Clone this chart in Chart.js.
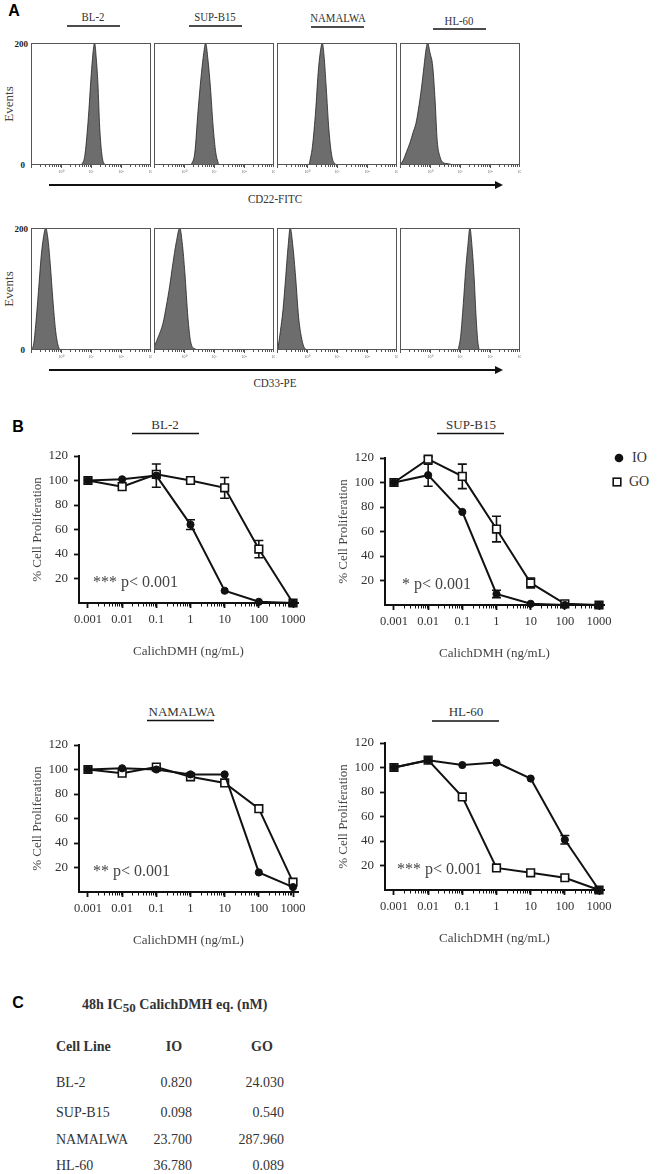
<!DOCTYPE html>
<html>
<head>
<meta charset="utf-8">
<script src="https://cdn.jsdelivr.net/npm/chart.js@4.4.1/dist/chart.umd.min.js"></script>
<style>
  body { margin: 0; background: #fff; width: 661px; height: 1174px; position: relative; overflow: hidden; }
  canvas { position: absolute; }
  .lbl { position: absolute; white-space: nowrap; line-height: 1; color: #333; font-family: "Liberation Serif", "Times New Roman", serif; }
  svg { position: absolute; left: 0; top: 0; }
</style>
</head>
<body>
<svg id="lines" width="661" height="1174"></svg>
<script>
// Cell lines and axis labels
const cellLines = ["BL-2", "SUP-B15", "NAMALWA", "HL-60"];
const histTickValues = [1, 2, 3, 4];
const histTickLabels = ["10⁰", "10¹", "10²", "10³"];
const histYLabels = ["200", "0"];
const histMarkers = ["CD22-FITC", "CD33-PE"];

// Flow histograms: [position in decades, events]
const cd22_BL2 = [[1.68,0],[1.79,14],[1.87,52],[1.93,90],[2.01,150],[2.09,194],[2.12,200],[2.18,172],[2.23,134],[2.29,62],[2.37,14],[2.46,0]];
const cd22_SUPB15 = [[1.24,0],[1.36,20],[1.47,90],[1.58,150],[1.66,184],[1.72,200],[1.80,172],[1.88,128],[1.97,64],[2.06,20],[2.16,0]];
const cd22_NAMALWA = [[1.07,0],[1.18,30],[1.29,90],[1.37,150],[1.44,184],[1.51,200],[1.57,178],[1.64,128],[1.73,58],[1.83,14],[1.96,0]];
const cd22_HL60 = [[0.03,2],[0.11,8],[0.22,22],[0.33,36],[0.44,54],[0.53,68],[0.61,90],[0.72,128],[0.80,162],[0.87,190],[0.92,200],[1.00,184],[1.09,162],[1.17,106],[1.24,40],[1.33,14],[1.44,4],[1.61,2],[1.78,0]];

const cd33_BL2 = [[0.02,2],[0.09,10],[0.18,54],[0.27,110],[0.34,154],[0.42,186],[0.49,200],[0.57,180],[0.64,142],[0.73,82],[0.82,32],[0.90,8],[0.96,0]];
const cd33_SUPB15 = [[0.03,8],[0.13,20],[0.30,44],[0.41,72],[0.52,104],[0.63,142],[0.74,176],[0.86,200],[0.94,176],[1.03,126],[1.13,54],[1.22,14],[1.36,2],[1.52,0]];
const cd33_NAMALWA = [[0.03,2],[0.11,30],[0.20,66],[0.29,120],[0.37,170],[0.44,200],[0.53,170],[0.62,120],[0.72,54],[0.81,22],[0.89,6],[0.98,0]];
const cd33_HL60 = [[1.94,0],[2.02,22],[2.11,76],[2.19,132],[2.26,170],[2.33,200],[2.40,170],[2.47,120],[2.53,60],[2.59,16],[2.64,0]];

// Proliferation curves
const doses = [0.001, 0.01, 0.1, 1, 10, 100, 1000];
const doseLabels = ["0.001", "0.01", "0.1", "1", "10", "100", "1000"];
const yTicks = [20, 40, 60, 80, 100, 120];

const io_BL2 = [100, 101, 104, 64, 10, 1, 0];
const go_BL2 = [100, 95, 105, 100, 94, 44, 0];
const ioErr_BL2 = [0, 0, 9.5, 4, 0, 0, 0];
const goErr_BL2 = [0, 0, 0, 0, 8.5, 7, 0];

const io_SUPB15 = [100, 106, 76, 9, 1, 0, 0];
const go_SUPB15 = [100, 119, 105, 62, 18, 1, 0];
const ioErr_SUPB15 = [0, 9, 0, 3, 0, 0, 0];
const goErr_SUPB15 = [0, 2, 10, 10.5, 4, 0, 0];

const io_NAMALWA = [100, 101, 100, 96, 96, 16, 4];
const go_NAMALWA = [100, 97, 102, 94, 89, 68, 8];
const ioErr_NAMALWA = [0, 0, 0, 0, 0, 0, 0];
const goErr_NAMALWA = [0, 0, 0, 0, 0, 0, 0];

const io_HL60 = [100, 106, 102, 104, 91, 41, 0];
const go_HL60 = [100, 106, 76, 18, 14, 10, 0];
const ioErr_HL60 = [0, 0, 0, 0, 0, 3.5, 0];
const goErr_HL60 = [0, 0, 0, 0, 0, 0, 0];

const pLabels = ["*** p< 0.001", "* p< 0.001", "** p< 0.001", "*** p< 0.001"];

// IC50 table
const tableHeader = ["Cell Line", "IO", "GO"];
const ic50_IO = ["0.820", "0.098", "23.700", "36.780"];
const ic50_GO = ["24.030", "0.540", "287.960", "0.089"];

const SERIF = '"Liberation Serif", "Times New Roman", serif';
const SANS = '"Liberation Sans", Arial, sans-serif';

Chart.defaults.animation = false;
Chart.defaults.devicePixelRatio = 1;

// small helpers for page text, lines and canvases
function put(html, x, y, o = {}) {
  const d = document.createElement("div");
  d.className = "lbl";
  d.innerHTML = html;
  d.style.left = x + "px";
  d.style.top = y + "px";
  d.style.fontSize = (o.size || 13) + "px";
  if (o.bold) d.style.fontWeight = "bold";
  if (o.family) d.style.fontFamily = o.family;
  if (o.color) d.style.color = o.color;
  const ax = o.align === "left" ? "0" : o.align === "right" ? "-100%" : "-50%";
  let t = `translate(${ax},-50%)`;
  if (o.rot) t += " rotate(-90deg)";
  if (o.sx) t += ` scaleX(${o.sx})`;
  d.style.transform = t;
  document.body.appendChild(d);
}

const svg = document.getElementById("lines");
function line(x1, y1, x2, y2, w = 1.6) {
  svg.insertAdjacentHTML("beforeend", `<line x1="${x1}" y1="${y1}" x2="${x2}" y2="${y2}" stroke="#111" stroke-width="${w}"/>`);
}
function arrow(x1, x2, y) {
  line(x1, y, x2 - 6, y, 1.8);
  svg.insertAdjacentHTML("beforeend", `<polygon points="${x2 - 8},${y - 4} ${x2},${y} ${x2 - 8},${y + 4}" fill="#111"/>`);
}

function makeCanvas(x, y, w, h) {
  const c = document.createElement("canvas");
  c.width = w; c.height = h;
  c.style.left = x + "px"; c.style.top = y + "px";
  c.style.width = w + "px"; c.style.height = h + "px";
  document.body.appendChild(c);
  return c;
}

// ---------- Panel A: histograms ----------
const histBox = {
  id: "histBox",
  afterDraw(chart) {
    const { ctx, chartArea: a, scales: { x } } = chart;
    ctx.save();
    ctx.strokeStyle = "#555";
    ctx.lineWidth = 1;
    ctx.strokeRect(a.left + 0.5, a.top + 0.5, a.right - a.left - 1, a.bottom - a.top - 1);
    ctx.beginPath();
    for (let d = 0; d < 4; d++) {
      for (let k = 1; k <= 9; k++) {
        const px = Math.round(x.getPixelForValue(d + Math.log10(k))) + 0.5;
        ctx.moveTo(px, a.bottom);
        ctx.lineTo(px, a.bottom + (k === 1 ? 3 : 2));
      }
    }
    ctx.stroke();
    ctx.fillStyle = "#666";
    ctx.font = "4px " + SERIF;
    ctx.textAlign = "center";
    histTickValues.forEach((v, i) => ctx.fillText(histTickLabels[i], x.getPixelForValue(v), a.bottom + 8));
    ctx.restore();
  }
};

function histogram(x, y, points) {
  const c = makeCanvas(x - 1, y - 1, 122, 136);
  new Chart(c, {
    type: "line",
    data: {
      datasets: [{
        data: points.map(p => ({ x: p[0], y: p[1] })),
        fill: "origin",
        backgroundColor: "#6d6d6d",
        borderColor: "#222",
        borderWidth: 0.8,
        pointRadius: 0,
        cubicInterpolationMode: "monotone"
      }]
    },
    options: {
      responsive: false,
      layout: { padding: { left: 1, right: 1, top: 1, bottom: 13 } },
      plugins: { legend: { display: false }, tooltip: { enabled: false } },
      scales: {
        x: { type: "linear", min: 0, max: 4, display: false },
        y: { min: 0, max: 200, display: false }
      }
    },
    plugins: [histBox]
  });
}

const boxLefts = [31, 154, 277, 400];
const histRows = [
  { top: 43, sets: [cd22_BL2, cd22_SUPB15, cd22_NAMALWA, cd22_HL60], arrowY: 185, labelY: 199 },
  { top: 228, sets: [cd33_BL2, cd33_SUPB15, cd33_NAMALWA, cd33_HL60], arrowY: 370, labelY: 383 }
];
histRows.forEach((row, r) => {
  row.sets.forEach((pts, i) => histogram(boxLefts[i], row.top, pts));
  put(histYLabels[0], 28, row.top + 1, { align: "right", size: 9, bold: true, color: "#222" });
  put(histYLabels[1], 25, row.top + 122, { align: "right", size: 9, bold: true, color: "#222" });
  put("Events", 8, row.top + 61, { rot: true, color: "#444" });
  arrow(49, 503, row.arrowY);
  put(histMarkers[r], 275, row.labelY, { sx: 0.82, color: "#333", size: 13.5 });
});

// titles above the histograms
const histTitles = [[93, 17, 67, 120, 26], [215, 17, 189, 242, 26], [338, 18, 311, 364, 27], [459, 21, 433, 486, 29]];
histTitles.forEach((t, i) => {
  put(cellLines[i], t[0], t[1], { sx: 0.8, size: 13.5 });
  line(t[2], t[4], t[3], t[4], 1.6);
});
put("A", 14, 11, { family: SANS, bold: true, size: 16, color: "#000" });

// ---------- Panel B: dose-response curves ----------
const doseExtras = {
  id: "doseExtras",
  beforeDatasetsDraw(chart) {
    const { ctx, scales: { x, y } } = chart;
    ctx.save();
    ctx.strokeStyle = "#111";
    ctx.lineWidth = 1.6;
    chart.data.datasets.forEach(ds => {
      ds.err.forEach((e, i) => {
        if (!e) return;
        const px = x.getPixelForValue(doses[i]);
        const yHi = y.getPixelForValue(ds.data[i].y + e);
        const yLo = y.getPixelForValue(ds.data[i].y - e);
        ctx.beginPath();
        ctx.moveTo(px, yHi); ctx.lineTo(px, yLo);
        ctx.moveTo(px - 4.5, yHi); ctx.lineTo(px + 4.5, yHi);
        ctx.moveTo(px - 4.5, yLo); ctx.lineTo(px + 4.5, yLo);
        ctx.stroke();
      });
    });
    ctx.restore();
  },
  afterDraw(chart, args, opts) {
    const { ctx, chartArea: a, scales: { x } } = chart;
    ctx.save();
    // minor log ticks
    ctx.strokeStyle = "#111";
    ctx.lineWidth = 1;
    ctx.beginPath();
    doses.forEach(d => {
      for (let k = 2; k <= 9; k++) {
        const v = d * k;
        if (v > x.max) continue;
        const px = Math.round(x.getPixelForValue(v)) + 0.5;
        ctx.moveTo(px, a.bottom);
        ctx.lineTo(px, a.bottom + 3.5);
      }
    });
    ctx.stroke();
    // significance text
    ctx.fillStyle = "#444";
    ctx.font = "16px " + SERIF;
    ctx.textBaseline = "middle";
    ctx.fillText(opts.pText, a.left + opts.pDx, a.bottom - 20);
    ctx.restore();
  }
};

function doseChart(x, y, io, go, ioErr, goErr, pText, pDx) {
  const c = makeCanvas(x, y, 300, 227);
  const tickFont = { family: SERIF, size: 13 };
  new Chart(c, {
    type: "line",
    data: {
      datasets: [
        {
          label: "IO", data: doses.map((d, i) => ({ x: d, y: io[i] })), err: ioErr,
          borderColor: "#111", borderWidth: 2, pointStyle: "circle", pointRadius: 3.6,
          pointBackgroundColor: "#111", pointBorderColor: "#111", pointBorderWidth: 1, clip: false
        },
        {
          label: "GO", data: doses.map((d, i) => ({ x: d, y: go[i] })), err: goErr,
          borderColor: "#111", borderWidth: 2, pointStyle: "rect", pointRadius: 5.4,
          pointBackgroundColor: "#fff", pointBorderColor: "#111", pointBorderWidth: 1.6, clip: false
        }
      ]
    },
    options: {
      responsive: false,
      layout: { padding: { left: 0, right: 22, top: 20, bottom: 0 } },
      plugins: {
        legend: { display: false },
        tooltip: { enabled: false },
        doseExtras: { pText: pText, pDx: pDx }
      },
      scales: {
        x: {
          type: "logarithmic",
          min: 0.000546,
          max: 1400,
          afterBuildTicks(s) { s.ticks = doses.map(v => ({ value: v, major: true })); },
          afterFit(s) { s.height = 60; s.paddingLeft = 0; s.paddingRight = 0; },
          ticks: {
            autoSkip: false, maxRotation: 0, padding: 4, color: "#333",
            font: { family: SERIF, size: 12.5 },
            callback: (v, i) => doseLabels[i]
          },
          grid: { drawOnChartArea: false, tickLength: 5, tickWidth: 1.8, tickColor: "#111" },
          border: { color: "#111", width: 2 },
          title: { display: true, text: "CalichDMH (ng/mL)", color: "#444", font: tickFont, padding: { top: 4, bottom: 4 } }
        },
        y: {
          min: 0,
          max: 120,
          afterBuildTicks(s) { s.ticks = yTicks.map(v => ({ value: v })); },
          afterFit(s) { s.width = 59; },
          ticks: { padding: 6, color: "#333", font: tickFont },
          grid: { drawOnChartArea: false, tickLength: 5, tickWidth: 1.8, tickColor: "#111" },
          border: { color: "#111", width: 2 },
          title: { display: true, text: "% Cell Proliferation", color: "#444", font: tickFont, padding: { top: 10, bottom: 0 } }
        }
      }
    },
    plugins: [doseExtras]
  });
}

doseChart(20, 436, io_BL2, go_BL2, ioErr_BL2, goErr_BL2, pLabels[0], 14);
doseChart(326, 438, io_SUPB15, go_SUPB15, ioErr_SUPB15, goErr_SUPB15, pLabels[1], 17);
doseChart(20, 725, io_NAMALWA, go_NAMALWA, ioErr_NAMALWA, goErr_NAMALWA, pLabels[2], 14);
doseChart(326, 723, io_HL60, go_HL60, ioErr_HL60, goErr_HL60, pLabels[3], 12);

const doseTitles = [[165, 424, 132, 199, 433.5], [471, 424, 437, 504, 433.5], [182, 711, 147, 214, 720.5], [466, 711, 432, 499, 721]];
doseTitles.forEach((t, i) => {
  put(cellLines[i], t[0], t[1]);
  line(t[2], t[4], t[3], t[4], 1.6);
});
put("B", 18, 427, { family: SANS, bold: true, size: 16, color: "#000" });

// legend (IO filled circle, GO open square)
const legendSeries = ["IO", "GO"];
svg.insertAdjacentHTML("beforeend", `<circle cx="619" cy="458" r="4.3" fill="#111"/>`);
svg.insertAdjacentHTML("beforeend", `<rect x="613.2" y="478.2" width="7.6" height="7.6" fill="#fff" stroke="#111" stroke-width="1.6"/>`);
put(legendSeries[0], 632, 458, { align: "left", size: 14 });
put(legendSeries[1], 629, 482, { align: "left", size: 14 });

// ---------- Panel C: IC50 table ----------
put("C", 18, 1003, { family: SANS, bold: true, size: 16, color: "#000" });
put("48h IC<span style=\"font-size:13px;position:relative;top:3px\">50</span> CalichDMH eq. (nM)", 82, 1005, { align: "left", size: 14, bold: true });
put(tableHeader[0], 56, 1047, { align: "left", size: 14, bold: true });
put(tableHeader[1], 174, 1047, { size: 14, bold: true });
put(tableHeader[2], 262, 1047, { size: 14, bold: true });
const rowY = [1083, 1113, 1140, 1166];
cellLines.forEach((name, i) => {
  put(name, 56, rowY[i], { align: "left", size: 14 });
  put(ic50_IO[i], 192, rowY[i], { align: "right", size: 14 });
  put(ic50_GO[i], 284, rowY[i], { align: "right", size: 14 });
});
</script>
</body>
</html>
